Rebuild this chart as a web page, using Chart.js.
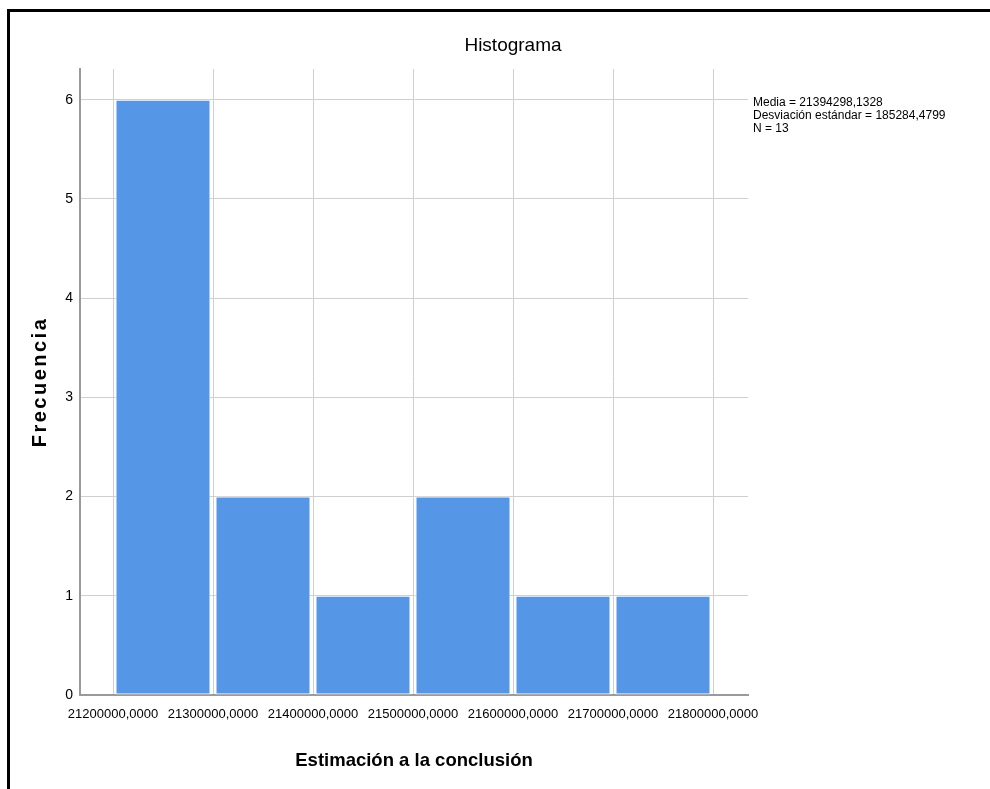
<!DOCTYPE html>
<html>
<head>
<meta charset="utf-8">
<title>Histograma</title>
<script src="https://cdn.jsdelivr.net/npm/chart.js@4.4.1/dist/chart.umd.min.js"></script>
<style>
  html, body { margin: 0; padding: 0; background: #fff; }
  #wrap { width: 990px; height: 789px; }
</style>
</head>
<body>
<div id="wrap"><canvas id="hist" width="990" height="789"></canvas></div>
<script>
// bins (lower edges) and counts
const binStarts = [21200000, 21300000, 21400000, 21500000, 21600000, 21700000];
const frequencies = [6, 2, 1, 2, 1, 1];
const binWidth = 100000;
const xTicks = [21200000, 21300000, 21400000, 21500000, 21600000, 21700000, 21800000];
const yTicks = [0, 1, 2, 3, 4, 5, 6];
const statsLines = ['Media = 21394298,1328', 'Desviación estándar = 185284,4799', 'N = 13'];

const sans = "'Liberation Sans', Arial, sans-serif";

const fmt = v => String(Math.round(v)) + ',0000';

// frame, title, y title and stats box
const decor = {
  id: 'decor',
  afterDraw(chart) {
    const ctx = chart.ctx;
    const area = chart.chartArea;
    ctx.save();
    ctx.fillStyle = '#000';
    ctx.fillRect(7, 9, 983, 3);
    ctx.fillRect(7, 9, 3, 789);

    ctx.textAlign = 'center';
    ctx.textBaseline = 'middle';
    ctx.font = '19px ' + sans;
    ctx.fillText('Histograma', 513, 46);

    ctx.save();
    ctx.translate(40, (area.top + area.bottom) / 2);
    ctx.rotate(-Math.PI / 2);
    ctx.font = 'bold 20px ' + sans;
    ctx.letterSpacing = '2.5px';
    ctx.fillText('Frecuencia', 0, 0);
    ctx.restore();

    ctx.textAlign = 'left';
    ctx.textBaseline = 'top';
    ctx.font = '12px ' + sans;
    statsLines.forEach((s, i) => ctx.fillText(s, area.right + 5, 97 + i * 13));
    ctx.restore();
  }
};

new Chart(document.getElementById('hist'), {
  type: 'bar',
  data: {
    datasets: [{
      label: 'Frecuencia',
      data: binStarts.map((b, i) => ({ x: b + binWidth / 2, y: frequencies[i] })),
      backgroundColor: '#5596e6',
      borderColor: 'rgba(255,255,255,0.85)',
      borderWidth: 1,
      borderSkipped: false,
      categoryPercentage: 1,
      barPercentage: 0.95
    }]
  },
  options: {
    responsive: false,
    animation: false,
    layout: { padding: { left: 0, top: 69, right: 242, bottom: 0 } },
    plugins: { legend: { display: false }, tooltip: { enabled: false } },
    scales: {
      x: {
        type: 'linear',
        offset: false,
        min: 21167000,
        max: 21835000,
        afterFit: s => { s.height = 94; },
        afterBuildTicks: s => { s.ticks = xTicks.map(v => ({ value: v })); },
        grid: { color: '#cfcfcf', lineWidth: 1, drawTicks: false, offset: false },
        border: { color: '#9a9a9a', width: 2 },
        ticks: {
          autoSkip: false,
          maxRotation: 0,
          padding: 12,
          color: '#000',
          font: { family: sans, size: 13 },
          callback: v => fmt(v)
        },
        title: {
          display: true,
          text: 'Estimación a la conclusión',
          color: '#000',
          font: { family: sans, size: 18.5, weight: 'bold' },
          padding: { top: 0, bottom: 17 }
        }
      },
      y: {
        min: 0,
        max: 6.31,
        afterFit: s => { s.width = 80; },
        afterBuildTicks: s => { s.ticks = yTicks.map(v => ({ value: v })); },
        grid: { color: '#cfcfcf', lineWidth: 1, drawTicks: false },
        border: { color: '#9a9a9a', width: 2 },
        ticks: {
          padding: 7,
          color: '#000',
          font: { family: sans, size: 14 }
        }
      }
    }
  },
  plugins: [decor]
});
</script>
</body>
</html>
